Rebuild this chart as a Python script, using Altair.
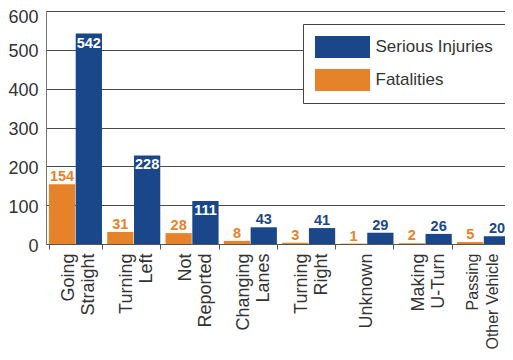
import altair as alt
import pandas as pd

categories = ["Going Straight", "Turning Left", "Not Reported", "Changing Lanes",
              "Turning Right", "Unknown", "Making U-Turn", "Passing Other Vehicle"]
fatalities = [154, 31, 28, 8, 3, 1, 2, 5]
serious = [542, 228, 111, 43, 41, 29, 26, 20]
series = ["Serious Injuries", "Fatalities"]
colors = ["#1A468A", "#E6822A"]
y_ticks = [0, 100, 200, 300, 400, 500, 600]

rows = []
for c, f, s in zip(categories, fatalities, serious):
    rows.append({"category": c, "series": "Fatalities", "value": f})
    rows.append({"category": c, "series": "Serious Injuries", "value": s})
df = pd.DataFrame(rows)

label_expr = ("indexof(datum.label, ' ') > 0 ? "
              "[slice(datum.label, 0, indexof(datum.label, ' ')), "
              "slice(datum.label, indexof(datum.label, ' ') + 1)] : datum.label")

x = alt.X("category:N", sort=categories, title=None,
          scale=alt.Scale(paddingInner=0.09, paddingOuter=0.05),
          axis=alt.Axis(labelAngle=270, labelAlign="right", labelBaseline="middle",
                        labelFontSize={"condition": {"test": "indexof(datum.label, 'Passing') == 0",
                                                     "value": 16}, "value": 18},
                        labelLineHeight=20, labelExpr=label_expr,
                        labelOffset={"condition": [
                            {"test": "indexof(datum.label, 'Passing') == 0", "value": -11},
                            {"test": "indexof(datum.label, ' ') > 0", "value": -7}],
                            "value": 0},
                        tickBand="extent", tickSize=5, labelPadding=4,
                        domainColor="#555", tickColor="#555", labelColor="#333",
                        grid=False))
xo = alt.XOffset("series:N", sort=["Fatalities", "Serious Injuries"],
                 scale=alt.Scale(paddingInner=0.02))
y = alt.Y("value:Q", scale=alt.Scale(domain=[0, 600]),
          axis=alt.Axis(values=y_ticks, title=None, ticks=False, labelPadding=8,
                        labelFontSize=18, labelColor="#333", domainColor="#777",
                        labelOffset={"condition": {"test": "datum.value == 600", "value": 6},
                                     "value": 2},
                        gridColor="#4a4a4a", gridWidth=1))
color_scale = alt.Scale(domain=series, range=colors)

base = alt.Chart(df)

bars = base.mark_bar().encode(
    x=x, xOffset=xo, y=y,
    color=alt.Color("series:N", scale=color_scale,
                    legend=alt.Legend(title=None, orient="none", legendX=257, legendY=13,
                                      symbolType="M-2.5,-1H2.5V1H-2.5Z", symbolSize=484,
                                      symbolOffset=16.5, labelOffset=22, labelFontSize=17,
                                      labelColor="#333", padding=12, rowPadding=11,
                                      strokeColor="#444", fillColor="white",
                                      symbolStrokeWidth=0, symbolOpacity=1)),
)

above = base.mark_text(baseline="alphabetic", dy=-3, fontWeight="bold", fontSize=14.5).encode(
    x=x, xOffset=xo, y=y, text="value:Q",
    color=alt.Color("series:N", scale=color_scale, legend=None),
).transform_filter("datum.series == 'Fatalities' || datum.value < 100")

inside = base.mark_text(baseline="top", dy=3, fontWeight="bold", fontSize=14.5, color="white").encode(
    x=x, xOffset=xo, y=y, text="value:Q",
).transform_filter("datum.series == 'Serious Injuries' && datum.value >= 100")

chart = alt.layer(bars, above, inside).properties(
    width=467, height=233,
    padding={"left": 38, "top": 3, "right": -8, "bottom": 108},
    autosize=alt.AutoSizeParams(type="none"),
).configure_view(stroke=None).configure(font="Liberation Sans")

chart.save("out.html", embed_options={"renderer": "svg", "actions": False})
